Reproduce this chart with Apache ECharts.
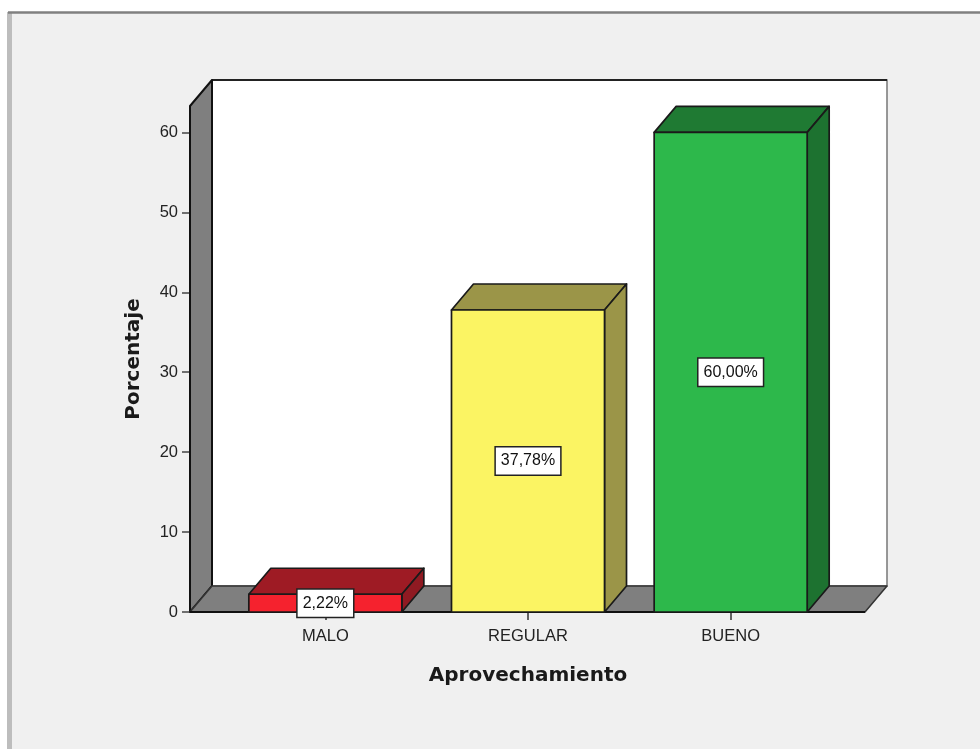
<!DOCTYPE html>
<html><head><meta charset="utf-8">
<style>html,body{margin:0;padding:0;background:#fff}#c{width:980px;height:749px}</style>
<script src="https://cdn.jsdelivr.net/npm/echarts@6/dist/echarts.min.js"></script>
</head><body><div id="c"></div>
<script>
const categories = ['MALO', 'REGULAR', 'BUENO'];
const values = [2.22, 37.78, 60.00];
const valueLabels = ['2,22%', '37,78%', '60,00%'];
const yTicks = [0, 10, 20, 30, 40, 50, 60];
const frontColors = ['#f5222e', '#fbf463', '#2db84b'];
const topColors = ['#9e1b24', '#9b9548', '#1f7a33'];
const sideColors = ['#8f1a22', '#9b9548', '#1d7230'];

const DEPTH_X = 22, DEPTH_Y = -26, WALL_PAD_L = 34, WALL_PAD_R = 33, LINE = '#1a1a1a';

function poly(points, fill, stroke, lw) {
  return { type: 'polygon', shape: { points }, style: { fill, stroke: stroke || LINE, lineWidth: lw || 1.7, lineJoin: 'round' } };
}

function renderWalls(params) {
  const s = params.coordSys;
  const l = s.x - WALL_PAD_L, r = s.x + s.width + WALL_PAD_R, t = s.y, b = s.y + s.height;
  return { type: 'group', children: [
    { type: 'polygon', shape: { points: [[l + DEPTH_X, t + DEPTH_Y], [r + DEPTH_X, t + DEPTH_Y], [r + DEPTH_X, b + DEPTH_Y], [l + DEPTH_X, b + DEPTH_Y]] }, style: { fill: '#ffffff', stroke: '#777', lineWidth: 1.5 } },
    { type: 'line', shape: { x1: l + DEPTH_X, y1: t + DEPTH_Y, x2: r + DEPTH_X, y2: t + DEPTH_Y }, style: { stroke: '#222', lineWidth: 2 } },
    poly([[l, t], [l + DEPTH_X, t + DEPTH_Y], [l + DEPTH_X, b + DEPTH_Y], [l, b]], '#7f7f7f', '#111', 2),
    poly([[l, b], [l + DEPTH_X, b + DEPTH_Y], [r + DEPTH_X, b + DEPTH_Y], [r, b]], '#7f7f7f', '#333', 1.5),
    { type: 'line', shape: { x1: l, y1: b, x2: r, y2: b }, style: { stroke: '#111', lineWidth: 2 } }
  ]};
}

function renderBar(params, api) {
  const i = params.dataIndex;
  const top = api.coord([i, api.value(1)]);
  const base = api.coord([i, 0]);
  const w = api.size([1, 0])[0] * 0.755;
  const l = top[0] - w / 2, r = top[0] + w / 2, t = top[1], b = base[1];
  return { type: 'group', children: [
    poly([[l, t], [l + DEPTH_X, t + DEPTH_Y], [r + DEPTH_X, t + DEPTH_Y], [r, t]], topColors[i]),
    poly([[r, t], [r + DEPTH_X, t + DEPTH_Y], [r + DEPTH_X, b + DEPTH_Y], [r, b]], sideColors[i]),
    poly([[l, t], [r, t], [r, b], [l, b]], frontColors[i]),
    { type: 'text', x: top[0], y: (t + b) / 2, style: {
        text: valueLabels[i], fill: '#111', font: '16px "Liberation Sans", Arial, sans-serif',
        align: 'center', verticalAlign: 'middle', backgroundColor: '#ffffff',
        borderColor: '#222', borderWidth: 1.5, padding: [7, 5, 4, 5] }, z2: 10 }
  ]};
}

const chart = echarts.init(document.getElementById('c'), null, { renderer: 'canvas' });
chart.setOption({
  animation: false,
  backgroundColor: '#ffffff',
  graphic: [
    { type: 'rect', z: -10, shape: { x: 10, y: 12, width: 970, height: 737 }, style: { fill: '#f0f0f0' } },
    { type: 'line', z: -9, shape: { x1: 9.5, y1: 12, x2: 9.5, y2: 749 }, style: { stroke: '#bdbdbd', lineWidth: 5 } },
    { type: 'line', z: -8, shape: { x1: 8, y1: 12.5, x2: 980, y2: 12.5 }, style: { stroke: '#808080', lineWidth: 2.5 } }
  ],
  grid: { left: 224, top: 106, width: 608, height: 506 },
  xAxis: {
    type: 'category', data: categories,
    name: 'Aprovechamiento', nameLocation: 'middle', nameGap: 54,
    nameTextStyle: { fontFamily: '"DejaVu Sans"', fontWeight: 'bold', fontSize: 20, color: '#1a1a1a' },
    axisLine: { show: false },
    axisTick: { show: true, alignWithLabel: true, length: 8, lineStyle: { color: '#333', width: 1.5 } },
    axisLabel: { fontFamily: '"Liberation Sans"', fontSize: 16.5, color: '#222', margin: 16 }
  },
  yAxis: {
    type: 'value', min: 0, max: 63.3, offset: WALL_PAD_L,
    name: 'Porcentaje', nameLocation: 'middle', nameGap: 46,
    nameTextStyle: { fontFamily: '"DejaVu Sans"', fontWeight: 'bold', fontSize: 20, color: '#1a1a1a' },
    axisLine: { show: false },
    splitLine: { show: false },
    axisTick: { show: true, length: 8, customValues: yTicks, lineStyle: { color: '#444', width: 1.5 } },
    axisLabel: { customValues: yTicks, fontFamily: '"Liberation Sans"', fontSize: 16.5, color: '#222', margin: 12, padding: [3, 0, 0, 0] }
  },
  series: [
    { type: 'custom', name: 'walls', silent: true, z: 1, renderItem: renderWalls, data: [[0, 0]], encode: { x: 0, y: 1 } },
    { type: 'custom', name: 'Porcentaje', z: 2, renderItem: renderBar,
      data: values.map((v, i) => [i, v]), encode: { x: 0, y: 1 } }
  ]
});
</script></body></html>
